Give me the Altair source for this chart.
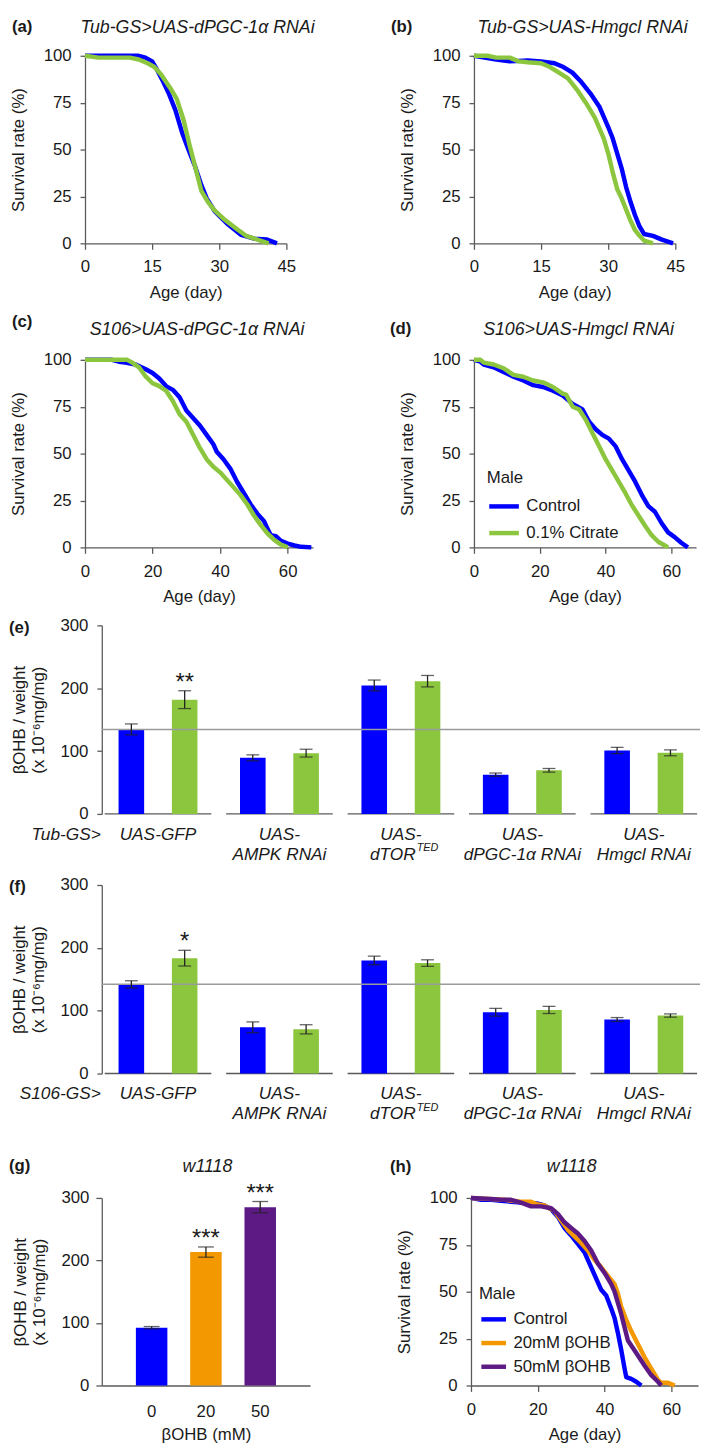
import altair as alt
import pandas as pd

FONT = "Liberation Sans"
TXT = "#1a1a1a"
AXIS = "#5a5a5a"
BLUE = "#0000FF"
GREEN = "#8CC63F"
ORANGE = "#F39800"
PURPLE = "#5D1A84"

# ---------------- survival data ----------------
a_ctrl_day = [0, 12, 13.5, 15, 16, 17.3, 18.7, 20.2, 21.7, 23.1, 24.6, 26, 27.2, 29, 32, 34.9, 37.8, 40.7, 42.9]
a_ctrl_surv = [100, 100, 99, 97, 93, 87, 80, 71, 59, 50, 41, 31, 24, 17, 10, 4.5, 2.5, 2, 0]
a_cit_day = [0, 3, 10, 12, 14, 15.5, 17, 19, 20.5, 22, 23.3, 24.6, 26, 27.5, 29, 31, 34, 36, 38.5, 41]
a_cit_surv = [100, 99, 99, 98, 96, 94, 90, 83, 77, 66, 53, 41, 28, 22, 17.5, 13, 7.5, 4, 2, 0]

b_ctrl_day = [0, 5, 8, 12, 15, 18, 20, 22, 24, 26, 28, 30, 31, 32, 33, 34, 35, 36, 37, 38, 40, 42, 44.5]
b_ctrl_surv = [100, 98, 97, 97.5, 97, 96, 94, 91, 86, 80, 73, 62, 56, 48, 40, 30, 22, 15, 9, 5, 4, 2, 0]
b_cit_day = [0, 3, 5, 8, 10, 12, 15, 17, 19, 21, 23, 25, 27, 29, 30, 31, 32, 33, 34, 35, 36, 37, 38, 40]
b_cit_surv = [100, 100, 99, 99, 97, 96.5, 96, 94, 91, 88, 82, 75, 67, 56, 48, 38, 29, 24, 18, 12, 7, 4, 1.5, 0]

c_ctrl_day = [0, 8, 10, 12, 15, 18, 20, 22, 24, 26, 28, 30, 32, 34, 36, 38, 39, 41, 43, 45, 47, 49, 51, 53, 54, 55, 56.5, 58, 60, 62, 64, 67]
c_ctrl_surv = [100, 100, 99, 98.5, 97.5, 95, 93, 90, 86, 84, 80, 73, 69, 65, 60, 55, 51, 47, 42, 35, 29, 23, 18, 14, 10, 6.5, 6, 3.5, 2, 1, 0.3, 0]
c_cit_day = [0, 12.5, 14, 16, 18, 20, 22, 24, 26, 28, 30, 32, 34, 36, 38, 40, 42, 44, 46, 48, 50, 52, 54, 56, 58, 60]
c_cit_surv = [100, 100, 98.5, 96, 91, 87.5, 86, 83.5, 78, 71, 67, 60, 53, 47, 43, 40, 36, 32, 28, 23, 17, 12, 7.5, 4, 1.5, 0]

d_ctrl_day = [0, 2, 3, 6, 9, 12, 15, 18, 21, 24, 27, 30, 33, 35, 37, 39, 41, 43, 45, 47, 49, 51, 53, 55, 57, 59, 61, 63, 65]
d_ctrl_surv = [100, 99, 97.5, 96, 93.5, 91, 89, 86.5, 85.5, 83.5, 81, 76.5, 73.5, 67, 63, 60, 58, 54, 47, 41, 35, 28, 22, 19, 13, 8, 5.5, 2.5, 0]
d_cit_day = [0, 2, 3, 6, 9, 12, 15, 18, 21, 24, 27, 28, 30, 32, 34, 36, 38, 40, 42, 44, 46, 48, 50, 52, 54, 56, 58, 59]
d_cit_surv = [100, 100, 98.5, 97.5, 95.5, 92, 91, 89, 88, 85.5, 82, 81.5, 75, 73.5, 68, 61, 54, 47, 41, 35, 29, 22.5, 17, 11.5, 6.5, 3, 1, 0]

h_ctrl_day = [0, 3, 6, 9, 12, 15, 18, 20, 22, 24, 26, 28, 30, 32, 34, 36, 38, 39, 40.5, 42, 43, 44, 45, 46, 46.5, 48, 49.5, 51]
h_ctrl_surv = [100, 99, 99, 98.5, 98, 97.5, 97, 97, 96, 94, 90, 84, 80, 75.5, 71, 63, 55, 51, 48, 41, 36, 28, 19, 9, 4.5, 3.5, 2, 0]
h_20_day = [0, 5, 10, 15, 18, 20, 22, 25, 27, 29, 31, 33, 35, 37, 39, 41, 43, 44, 45, 46.5, 48, 50, 52, 54, 56, 57, 59, 61]
h_20_surv = [100, 99.5, 99, 98, 98, 96.5, 96, 93, 88, 83, 79.5, 76, 72, 67, 63, 58.5, 54, 49, 42, 35, 29, 22, 15, 9, 3, 1.5, 1.5, 0]
h_50_day = [0, 6, 9, 12, 15, 18, 21, 24, 26, 28, 30, 32, 34, 36, 38, 40, 42, 43, 44, 45, 46, 47, 48.5, 50, 52, 54, 56, 57]
h_50_surv = [100, 99.5, 99, 99, 97.5, 95.5, 95.5, 94.5, 91.5, 87, 84, 81, 77, 72, 65, 60, 54, 50, 44, 38, 31, 24, 20, 16, 10.5, 5.5, 2, 0]

# ---------------- bar data ----------------
GROUPS = ["GFP", "AMPK", "dTOR", "PGC", "Hmgcl"]
G_L1 = ["UAS-GFP", "UAS-", "UAS-", "UAS-", "UAS-"]
G_L2 = ["", "AMPK RNAi", "", "dPGC-1α RNAi", "Hmgcl RNAi"]
TREAT = ["Control", "0.1% Citrate"]

e_ctrl = [134.5, 89.3, 204.4, 62.5, 100.9]
e_ctrl_err = [8.7, 4.7, 8.6, 2.6, 5.0]
e_cit = [181.8, 96.7, 211.2, 69.4, 97.2]
e_cit_err = [14.2, 6.2, 9.1, 2.9, 4.7]
e_stars = ["**", "", "", "", ""]
e_ref = 134.5

f_ctrl = [141.9, 73.6, 180.0, 97.5, 86.0]
f_ctrl_err = [5.7, 8.6, 6.8, 6.2, 3.1]
f_cit = [183.6, 70.4, 175.8, 101.2, 92.3]
f_cit_err = [12.5, 7.3, 5.2, 5.7, 2.6]
f_stars = ["*", "", "", "", ""]
f_ref = 142.0

G_DOSE = ["0", "20", "50"]
g_val = [92.5, 213.4, 285.3]
g_err = [1.8, 8.2, 9.0]
g_stars = ["", "***", "***"]

LBL = 17.5   # group label size
TTL = 18     # panel title size
STAR = 24


def one():
    return pd.DataFrame({"k": [0]})


def box(l, r, t, b):
    # invisible frame that fixes the panel's extent for the concat layout
    return alt.Chart(one()).mark_rect(opacity=0, fillOpacity=0, strokeOpacity=0).encode(
        x=alt.value(l), x2=alt.value(r), y=alt.value(t), y2=alt.value(b))


def plabel(text, x, y):
    return alt.Chart(one()).mark_text(
        text=text, fontWeight="bold", fontSize=17, align="left", baseline="middle", color=TXT
    ).encode(x=alt.value(x), y=alt.value(y))


def ptitle(text, x, y):
    return alt.Chart(one()).mark_text(
        text=text, fontStyle="italic", fontSize=TTL, align="center", baseline="alphabetic", color=TXT
    ).encode(x=alt.value(x), y=alt.value(y))


def anchor():
    return alt.Chart(one()).mark_rule(opacity=0, strokeOpacity=0).encode(
        x=alt.value(0), y=alt.value(0), y2=alt.value(1)).properties(width=1, height=1)


def surv_panel(series, xdom, xticks, width, legend=None, extra=()):
    dom = [s[0] for s in series]
    rng = [s[3] for s in series]
    cscale = alt.Scale(domain=dom, range=rng)
    xax = alt.Axis(values=xticks, title="Age (day)", tickSize=6, labelPadding=10,
                   titlePadding=10, labelFlush=False, labelOverlap=False)
    yax = alt.Axis(values=[0, 25, 50, 75, 100], title="Survival rate (%)", tickSize=5,
                   labelPadding=9, titlePadding=16, labelFlush=False, labelOverlap=False)
    layers = []
    for name, days, vals, col in series:
        df = pd.DataFrame({"day": days, "surv": vals, "grp": name})
        layers.append(alt.Chart(df).mark_line(strokeWidth=4.5, strokeJoin="round").encode(
            x=alt.X("day:Q", scale=alt.Scale(domain=xdom, nice=False, zero=False), axis=xax),
            y=alt.Y("surv:Q", scale=alt.Scale(domain=[0, 100], nice=False), axis=yax),
            color=alt.Color("grp:N", scale=cscale, legend=legend),
        ))
    return alt.layer(*layers, *extra).properties(width=width, height=190)


def legend(x, y, size, rp):
    return alt.Legend(title="Male", orient="none", legendX=x, legendY=y, symbolType="stroke",
                      symbolStrokeWidth=4.5, symbolSize=size, labelFontSize=17, titleFontSize=17,
                      titleFontWeight="normal", labelFont=FONT, titleFont=FONT, labelColor=TXT,
                      titleColor=TXT, titlePadding=2, rowPadding=rp, labelOffset=5, padding=0)


def bar_panel(ctrl, cerr, cit, terr, stars, ref, driver, extra=()):
    df = pd.DataFrame({
        "grp": GROUPS + GROUPS,
        "trt": [TREAT[0]] * 5 + [TREAT[1]] * 5,
        "val": ctrl + cit,
        "err": cerr + terr,
        "star": [""] * 5 + stars,
    })
    df["lo"] = df["val"] - df["err"]
    df["hi"] = df["val"] + df["err"]
    lab = pd.DataFrame({"grp": GROUPS, "l1": G_L1, "l2": G_L2})
    X = alt.X("grp:N", sort=GROUPS, scale=alt.Scale(domain=GROUPS, paddingInner=0.122, paddingOuter=0.024), axis=None)
    XO = alt.XOffset("trt:N", sort=TREAT, scale=alt.Scale(domain=TREAT, paddingInner=0.52, paddingOuter=0.26))
    yax = alt.Axis(values=[0, 100, 200, 300], title=["βOHB / weight", "(x 10⁻⁶mg/mg)"],
                   tickSize=5, labelPadding=9, titlePadding=13, titleLineHeight=19, labelFlush=False)
    ysc = alt.Scale(domain=[0, 300], nice=False)

    def Y(f):
        return alt.Y(f + ":Q", scale=ysc, axis=yax)

    base_lines = alt.Chart(lab).mark_rect(color=AXIS).encode(
        x=X, y=alt.value(190.3), y2=alt.value(191.7))
    bars = alt.Chart(df).mark_bar().encode(
        x=X, xOffset=XO, y=Y("val"),
        color=alt.Color("trt:N", scale=alt.Scale(domain=TREAT, range=[BLUE, GREEN]), legend=None))
    refl = alt.Chart(one()).mark_rule(color="#9a9a9a", strokeWidth=1.5).encode(y=alt.datum(ref))
    err = alt.Chart(df).mark_rule(color="#222222", strokeWidth=1.3).encode(
        x=X, xOffset=XO, y=Y("lo"), y2="hi:Q")
    cap_lo = alt.Chart(df).mark_tick(color="#222222", thickness=1.3, size=13).encode(x=X, xOffset=XO, y=Y("lo"))
    cap_hi = alt.Chart(df).mark_tick(color="#222222", thickness=1.3, size=13).encode(x=X, xOffset=XO, y=Y("hi"))
    star = alt.Chart(df).mark_text(fontSize=STAR, baseline="bottom", dy=4, color=TXT).encode(
        x=X, xOffset=XO, y=Y("hi"), text="star:N")
    l1 = alt.Chart(lab).mark_text(fontStyle="italic", fontSize=LBL, baseline="middle", color=TXT).encode(
        x=X, y=alt.value(212), text="l1:N")
    l2 = alt.Chart(lab).mark_text(fontStyle="italic", fontSize=LBL, baseline="middle", color=TXT).encode(
        x=X, y=alt.value(232.5), text="l2:N")
    dtor = alt.Chart(lab[lab.grp == "dTOR"]).mark_text(
        text="dTOR", fontStyle="italic", fontSize=LBL, baseline="middle", align="right", dx=15, color=TXT).encode(
        x=X, y=alt.value(232.5))
    ted = alt.Chart(lab[lab.grp == "dTOR"]).mark_text(
        text="TED", fontStyle="italic", fontSize=11, baseline="middle", align="left", dx=16, dy=-7, color=TXT).encode(
        x=X, y=alt.value(232.5))
    drv = alt.Chart(one()).mark_text(text=driver, fontStyle="italic", fontSize=LBL, align="right",
                                     baseline="middle", color=TXT).encode(x=alt.value(-1), y=alt.value(212))
    return alt.layer(base_lines, bars, refl, err, cap_lo, cap_hi, star, l1, l2, dtor, ted, drv, *extra).properties(
        width=606, height=191)


# ---------------- panels ----------------
pa = surv_panel([("Control", a_ctrl_day, a_ctrl_surv, BLUE), ("0.1% Citrate", a_cit_day, a_cit_surv, GREEN)],
                [0, 45], [0, 15, 30, 45], 204,
                extra=(box(-74, 300, -36, 255), plabel("(a)", -74, -29.5),
                       ptitle("Tub-GS>UAS-dPGC-1α RNAi", 102 + 12, -23)))
pb = surv_panel([("Control", b_ctrl_day, b_ctrl_surv, BLUE), ("0.1% Citrate", b_cit_day, b_cit_surv, GREEN)],
                [0, 45], [0, 15, 30, 45], 204,
                extra=(box(-94, 225, 0, 190), plabel("(b)", -84, -29.5),
                       ptitle("Tub-GS>UAS-Hmgcl RNAi", 102 + 8, -23)))
pc = surv_panel([("Control", c_ctrl_day, c_ctrl_surv, BLUE), ("0.1% Citrate", c_cit_day, c_cit_surv, GREEN)],
                [0, 67.5], [0, 20, 40, 60], 231,
                extra=(box(-74, 300, -53, 255), plabel("(c)", -74, -38),
                       ptitle("S106>UAS-dPGC-1α RNAi", 115.5 - 2, -25)))
pd_ = surv_panel([("Control", d_ctrl_day, d_ctrl_surv, BLUE), ("0.1% Citrate", d_cit_day, d_cit_surv, GREEN)],
                 [0, 67.5], [0, 20, 40, 60], 225,
                 legend=legend(13, 112, 900, -4),
                 extra=(box(-94, 226, 0, 190), plabel("(d)", -85, -31),
                        ptitle("S106>UAS-Hmgcl RNAi", 112.5 - 6.5, -25)))

pe = bar_panel(e_ctrl, e_ctrl_err, e_cit, e_cit_err, e_stars, e_ref, "Tub-GS>",
               extra=(box(-94, 606, -14, 247), plabel("(e)", -94, 3)))
pf = bar_panel(f_ctrl, f_ctrl_err, f_cit, f_cit_err, f_stars, f_ref, "S106-GS>",
               extra=(box(-94, 606, -16, 259), plabel("(f)", -94, 2)))

gdf = pd.DataFrame({"dose": G_DOSE, "val": g_val, "err": g_err, "star": g_stars})
gdf["lo"] = gdf["val"] - gdf["err"]
gdf["hi"] = gdf["val"] + gdf["err"]
GX = alt.X("dose:N", sort=G_DOSE, scale=alt.Scale(domain=G_DOSE, paddingInner=0.42, paddingOuter=0.628),
           axis=alt.Axis(title="βOHB (mM)", ticks=False, labelPadding=18.7, titlePadding=7, labelAngle=0))
gyax = alt.Axis(values=[0, 100, 200, 300], title=["βOHB / weight", "(x 10⁻⁶mg/mg)"],
                tickSize=6, labelPadding=7, titlePadding=13, titleLineHeight=19, labelFlush=False)
gysc = alt.Scale(domain=[0, 300], nice=False)


def GY(f):
    return alt.Y(f + ":Q", scale=gysc, axis=gyax)


g_bars = alt.Chart(gdf).mark_bar().encode(
    x=GX, y=GY("val"),
    color=alt.Color("dose:N", scale=alt.Scale(domain=G_DOSE, range=[BLUE, ORANGE, PURPLE]), legend=None))
g_err_r = alt.Chart(gdf).mark_rule(color="#222222", strokeWidth=1.3).encode(x=GX, y=GY("lo"), y2="hi:Q")
g_cap_lo = alt.Chart(gdf).mark_tick(color="#222222", thickness=1.3, size=16).encode(x=GX, y=GY("lo"))
g_cap_hi = alt.Chart(gdf).mark_tick(color="#222222", thickness=1.3, size=16).encode(x=GX, y=GY("hi"))
g_star = alt.Chart(gdf).mark_text(fontSize=STAR, baseline="bottom", dy=4, color=TXT).encode(
    x=GX, y=GY("hi"), text="star:N")
pg = alt.layer(g_bars, g_err_r, g_cap_lo, g_cap_hi, g_star,
               box(-94, 280, -58, 250), plabel("(g)", -94, -32),
               ptitle("w1118", 105.5 + 1.5, -26)).properties(width=211, height=190)

ph = surv_panel([("Control", h_ctrl_day, h_ctrl_surv, BLUE), ("20mM βOHB", h_20_day, h_20_surv, ORANGE),
                 ("50mM βOHB", h_50_day, h_50_surv, PURPLE)],
                [0, 68], [0, 20, 40, 60], 230,
                legend=legend(8, 89, 625, -1),
                extra=(box(-94, 231, 0, 190), plabel("(h)", -82, -31),
                       ptitle("w1118", 102 - 0, -26)))


def row(*charts):
    return alt.hconcat(anchor(), *charts, spacing=0).resolve_scale(
        color="independent").resolve_legend(color="independent")


r1 = row(pa, pb)
r2 = row(pc, pd_)
r3 = row(pe)
r4 = row(pf)
r5 = row(pg, ph)

chart = alt.vconcat(r1, r2, r3, r4, r5, spacing=0).resolve_scale(color="independent").resolve_legend(
    color="independent").properties(padding=0).configure(font=FONT).configure_view(strokeWidth=0).configure_axis(
    labelFontSize=17, titleFontSize=17, labelFont=FONT, titleFont=FONT, titleFontWeight="normal",
    labelColor=TXT, titleColor=TXT, domainColor=AXIS, tickColor=AXIS, domainWidth=1.3, tickWidth=1.3,
    grid=False).configure_text(font=FONT, color=TXT)

chart.save("out.html", embed_options={"renderer": "svg", "actions": False})
